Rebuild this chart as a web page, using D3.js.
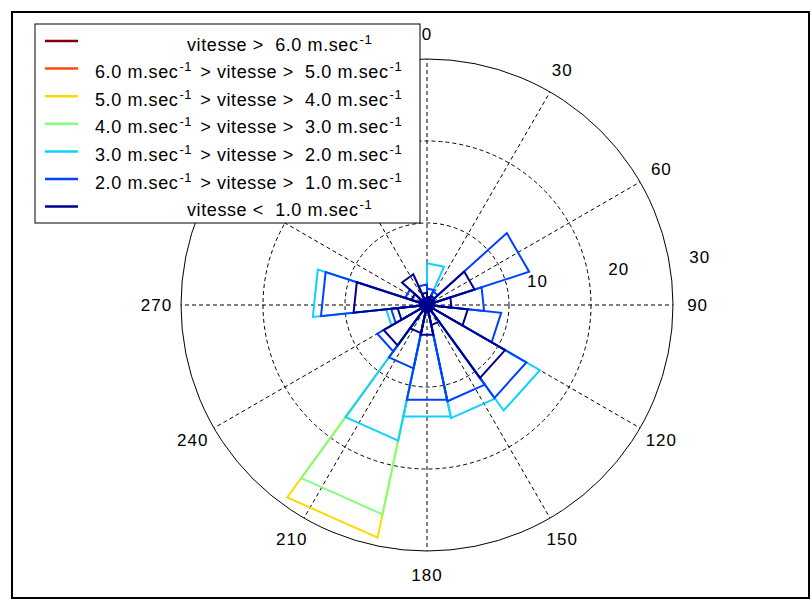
<!DOCTYPE html>
<html>
<head>
<meta charset="utf-8">
<script src="https://cdn.jsdelivr.net/npm/d3@7"></script>
<style>
  body { margin: 0; background: #fff; }
  svg text { font-family: 'Liberation Sans', Arial, sans-serif; fill: #000; }
</style>
</head>
<body>
<div class="rose"></div>
<script>
// direction bins (start bearing, degrees clockwise from north), 24 deg wide
const directions = [0, 24, 48, 72, 96, 120, 144, 168, 192, 216, 240, 264, 288, 312, 336];
const binWidth = 24;

// frequency per speed class, innermost (slowest) first
const freqLt1 = [1.0, 1.2, 6.1, 3.0, 5.0, 11.0, 2.5, 3.7, 3.5, 6.1, 3.6, 9.0, 2.0, 4.1, 1.5];
const freq1to2 = [1.0, 0.6, 7.0, 4.0, 4.1, 3.0, 9.5, 8.1, 4.4, 0.9, 0.8, 4.0, 0.8, 0.0, 1.0];
const freq2to3 = [3.1, 0, 0, 0, 0, 1.9, 2.1, 2.1, 9.0, 0, 0.6, 1.0, 0, 0, 0];
const freq3to4 = [0, 0, 0, 0, 0, 0, 0, 0, 9.2, 0, 0, 0, 0, 0, 0];
const freq4to5 = [0, 0, 0, 0, 0, 0, 0, 0, 2.9, 0, 0, 0, 0, 0, 0];
const freq5to6 = [0, 0, 0, 0, 0, 0, 0, 0, 0, 0, 0, 0, 0, 0, 0];
const freqGt6 = [0, 0, 0, 0, 0, 0, 0, 0, 0, 0, 0, 0, 0, 0, 0];
const freqCalm = 1.0;

// speed class bounds [lower, upper] in m/s, innermost first
const speedBounds = [[null, 1], [1, 2], [2, 3], [3, 4], [4, 5], [5, 6], [6, null]];
const classColors = ['#000090', '#0040ff', '#10d0ff', '#80ff80', '#ffd800', '#ff4a10', '#800000'];

const angleTicks = [0, 30, 60, 90, 120, 150, 180, 210, 240, 270, 300, 330];
const radialTicks = [10, 20, 30];

const width = 810,
  height = 612,
  cx = 427,
  cy = 305,
  rMax = 246;

const series = [freqLt1, freq1to2, freq2to3, freq3to4, freq4to5, freq5to6, freqGt6];

const svg = d3
  .select('.rose')
  .append('svg')
  .attr('width', width)
  .attr('height', height);

// figure frame
svg
  .append('rect')
  .attr('x', 12)
  .attr('y', 12)
  .attr('width', 797)
  .attr('height', 586)
  .attr('fill', 'none')
  .attr('stroke', '#000')
  .attr('stroke-width', 2);

const r = d3
  .scaleLinear()
  .domain([0, d3.max(radialTicks)])
  .range([0, rMax]);

const rad = deg => (deg * Math.PI) / 180;

const g = svg.append('g').attr('transform', `translate(${cx},${cy})`);

// grid: spokes + rings
g.selectAll('.spoke')
  .data(angleTicks)
  .enter()
  .append('line')
  .attr('class', 'spoke')
  .attr('x1', 0)
  .attr('y1', 0)
  .attr('x2', d => d3.pointRadial(rad(d), r(30))[0])
  .attr('y2', d => d3.pointRadial(rad(d), r(30))[1])
  .attr('stroke', '#000')
  .attr('stroke-width', 1)
  .attr('stroke-dasharray', '4,3');

g.selectAll('.ring')
  .data(radialTicks)
  .enter()
  .append('circle')
  .attr('class', 'ring')
  .attr('r', d => r(d))
  .attr('fill', 'none')
  .attr('stroke', '#000')
  .attr('stroke-width', 1)
  .attr('stroke-dasharray', d => (d === d3.max(radialTicks) ? null : '4,3'));

// angle labels
g.selectAll('.angle-label')
  .data(angleTicks)
  .enter()
  .append('text')
  .attr('class', 'angle-label')
  .attr('x', d => d3.pointRadial(rad(d), r(30) * 1.1)[0])
  .attr('y', d => d3.pointRadial(rad(d), r(30) * 1.1)[1])
  .attr('text-anchor', 'middle')
  .attr('dominant-baseline', 'central')
  .style('font-size', '17px')
  .style('letter-spacing', '1px')
  .text(d => d);

// ring labels
const labelAngle = rad(8.5);
g.selectAll('.ring-label')
  .data(radialTicks)
  .enter()
  .append('text')
  .attr('class', 'ring-label')
  .attr('x', d => r(d) * Math.cos(labelAngle) + 19)
  .attr('y', d => -r(d) * Math.sin(labelAngle) - 6)
  .style('font-size', '17px')
  .style('letter-spacing', '1px')
  .text(d => d);

// wedges: cumulative per sector, outer classes first so inner ones sit on top
const wedges = [];
for (let k = series.length - 1; k >= 0; k--) {
  directions.forEach((dir, i) => {
    if (series[k][i] <= 0) return;
    let cum = 0;
    for (let j = 0; j <= k; j++) cum += series[j][i];
    wedges.push({ k, dir, value: cum });
  });
}

g.selectAll('.wedge')
  .data(wedges)
  .enter()
  .append('path')
  .attr('class', 'wedge')
  .attr('d', d => {
    const p1 = d3.pointRadial(rad(d.dir), r(d.value));
    const p2 = d3.pointRadial(rad(d.dir + binWidth), r(d.value));
    return `M0,0L${p1[0]},${p1[1]}L${p2[0]},${p2[1]}Z`;
  })
  .attr('fill', 'none')
  .attr('stroke', d => classColors[d.k])
  .attr('stroke-width', 2)
  .attr('stroke-linejoin', 'miter');

// calm disk in the middle
g.append('circle')
  .attr('r', r(freqCalm))
  .attr('fill', classColors[0]);

// legend
const legend = svg.append('g').attr('class', 'legend');
legend
  .append('rect')
  .attr('x', 35)
  .attr('y', 24)
  .attr('width', 385)
  .attr('height', 199)
  .attr('fill', '#fff')
  .attr('stroke', '#000')
  .attr('stroke-width', 1);

const legendOrder = d3.range(speedBounds.length).reverse();
const rowY = i => 41 + i * 27.6;

legendOrder.forEach((k, i) => {
  const y = rowY(i);
  legend
    .append('line')
    .attr('x1', 45)
    .attr('x2', 78)
    .attr('y1', y)
    .attr('y2', y)
    .attr('stroke', classColors[k])
    .attr('stroke-width', 2.5);

  const [lo, hi] = speedBounds[k];
  const single = lo === null || hi === null;
  const text = legend
    .append('text')
    .attr('x', single ? 187 : 95)
    .attr('y', y + 9.5)
    .style('font-size', '18px')
    .style('letter-spacing', '0.6px')
    .style('white-space', 'pre');

  const sup = () => {
    text
      .append('tspan')
      .attr('dx', 1)
      .attr('dy', -7)
      .style('font-size', '13px')
      .text('-1');
  };

  if (lo === null) {
    text.append('tspan').text(`vitesse <  ${hi.toFixed(1)} m.sec`);
    sup();
  } else if (hi === null) {
    text.append('tspan').text(`vitesse >  ${lo.toFixed(1)} m.sec`);
    sup();
  } else {
    text.append('tspan').text(`${hi.toFixed(1)} m.sec`);
    sup();
    text
      .append('tspan')
      .attr('dx', 8)
      .attr('dy', 7)
      .text(`> vitesse >  ${lo.toFixed(1)} m.sec`);
    sup();
  }
});
</script>
</body>
</html>
